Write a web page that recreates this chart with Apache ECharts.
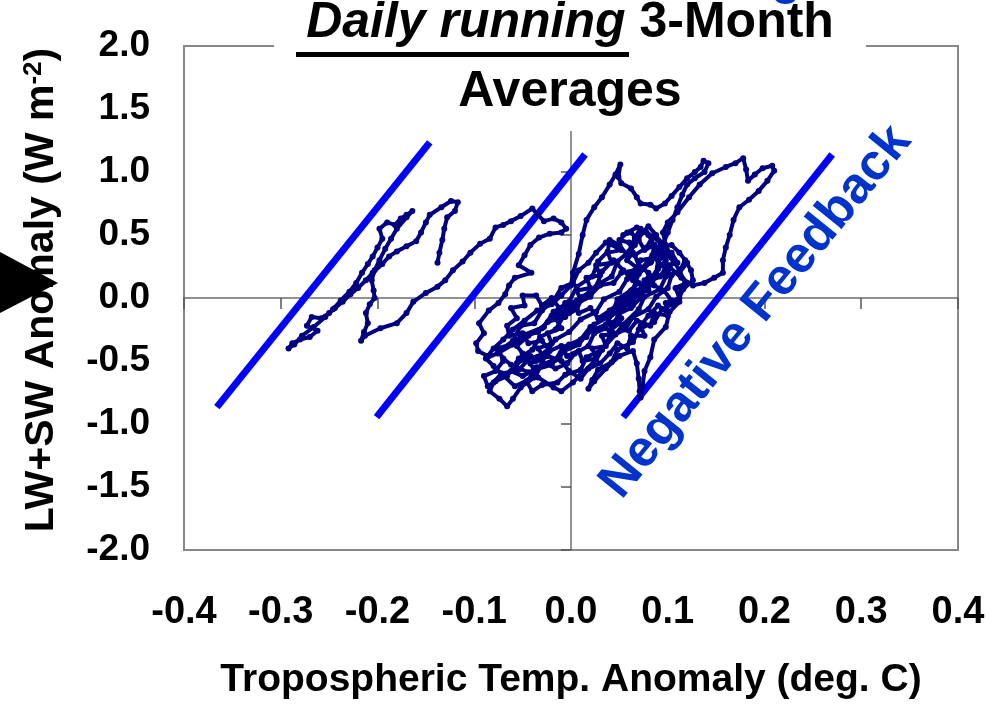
<!DOCTYPE html>
<html>
<head>
<meta charset="utf-8">
<script src="https://cdn.jsdelivr.net/npm/echarts@6/dist/echarts.min.js"></script>
<style>
  html, body { margin: 0; padding: 0; background: #fff; }
  #chart { width: 997px; height: 704px; }
</style>
</head>
<body>
<div id="chart"></div>
<script>
const FONT = '"Liberation Sans", Arial, sans-serif';

// axis ticks
const xTicks = { min: -0.4, max: 0.4, step: 0.1 };
const yTicks = { min: -2.0, max: 2.0, step: 0.5 };

// daily running 3-month averages, [temp anomaly (deg C), LW+SW anomaly (W m-2)]
const leftBranch = [
  [-0.138, 0.28], [-0.136, 0.36], [-0.133, 0.46], [-0.131, 0.55], [-0.128, 0.64],
  [-0.120, 0.69], [-0.117, 0.76], [-0.124, 0.77], [-0.134, 0.72], [-0.146, 0.66],
  [-0.150, 0.60], [-0.155, 0.52], [-0.160, 0.45], [-0.170, 0.41], [-0.180, 0.37],
  [-0.188, 0.33], [-0.195, 0.27], [-0.205, 0.20], [-0.212, 0.14], [-0.220, 0.08],
  [-0.228, 0.03], [-0.236, -0.03], [-0.244, -0.08], [-0.250, -0.12], [-0.258, -0.16],
  [-0.268, -0.15], [-0.273, -0.22], [-0.262, -0.26], [-0.270, -0.31], [-0.280, -0.33],
  [-0.288, -0.36], [-0.292, -0.40], [-0.286, -0.37], [-0.278, -0.30], [-0.266, -0.23],
  [-0.254, -0.15], [-0.246, -0.09], [-0.238, -0.02], [-0.229, 0.05], [-0.222, 0.12],
  [-0.216, 0.20], [-0.210, 0.27], [-0.205, 0.33], [-0.200, 0.40], [-0.195, 0.47],
  [-0.198, 0.55], [-0.190, 0.60], [-0.182, 0.58], [-0.176, 0.63], [-0.170, 0.66],
  [-0.164, 0.69], [-0.170, 0.64], [-0.180, 0.55], [-0.186, 0.47], [-0.192, 0.39],
  [-0.198, 0.30], [-0.203, 0.22], [-0.206, 0.14], [-0.204, 0.06], [-0.203, 0.00],
  [-0.208, -0.05], [-0.212, -0.12], [-0.210, -0.20], [-0.214, -0.27], [-0.217, -0.34],
  [-0.213, -0.30]
];

const crossing = [
  [-0.197, -0.24], [-0.180, -0.20], [-0.170, -0.12], [-0.163, -0.03], [-0.150, 0.04],
  [-0.138, 0.09], [-0.130, 0.14], [-0.122, 0.22], [-0.112, 0.29], [-0.104, 0.36],
  [-0.094, 0.43], [-0.084, 0.47], [-0.078, 0.56], [-0.070, 0.58], [-0.062, 0.61],
  [-0.052, 0.65], [-0.040, 0.71], [-0.034, 0.66], [-0.028, 0.61], [-0.018, 0.63],
  [-0.010, 0.60], [-0.005, 0.55], [-0.010, 0.52], [-0.022, 0.51], [-0.033, 0.48],
  [-0.042, 0.42], [-0.048, 0.34], [-0.054, 0.26], [-0.041, 0.20], [-0.058, 0.16],
  [-0.064, 0.10], [-0.068, 0.03], [-0.075, -0.04], [-0.085, -0.10], [-0.095, -0.20],
  [-0.090, -0.28], [-0.098, -0.36], [-0.096, -0.42], [-0.086, -0.46], [-0.080, -0.40],
  [-0.070, -0.33], [-0.060, -0.25], [-0.048, -0.18], [-0.035, -0.10], [-0.020, -0.05],
  [-0.010, 0.02]
];

const excursion = [
  [0.000, 0.10], [0.002, 0.20], [0.008, 0.35], [0.012, 0.50], [0.016, 0.62],
  [0.024, 0.72], [0.032, 0.80], [0.040, 0.90], [0.046, 0.98], [0.051, 1.06],
  [0.049, 0.96], [0.052, 0.91], [0.062, 0.87], [0.068, 0.80], [0.072, 0.75],
  [0.082, 0.74], [0.088, 0.71], [0.097, 0.75], [0.104, 0.81], [0.112, 0.88],
  [0.120, 0.95], [0.128, 1.00], [0.134, 1.04], [0.137, 1.09], [0.142, 1.07],
  [0.138, 1.00], [0.128, 0.95], [0.120, 0.90], [0.115, 0.82], [0.110, 0.72],
  [0.105, 0.62], [0.100, 0.52], [0.096, 0.44]
];

const clusterA = [
  [0.090, 0.36], [0.082, 0.28], [0.074, 0.23], [0.058, 0.15], [0.050, 0.05],
  [0.034, -0.01], [0.026, -0.11], [0.010, -0.17], [-0.002, -0.27], [-0.016, -0.33],
  [-0.026, -0.43], [-0.044, -0.49], [-0.054, -0.57], [-0.072, -0.60], [-0.080, -0.67],
  [-0.084, -0.74], [-0.074, -0.80], [-0.066, -0.86], [-0.060, -0.80], [-0.052, -0.71],
  [-0.038, -0.63], [-0.030, -0.53], [-0.012, -0.47], [-0.002, -0.37], [0.016, -0.31],
  [0.024, -0.21], [0.042, -0.13], [0.048, -0.01], [0.064, 0.07], [0.070, 0.19],
  [0.083, 0.29], [0.086, 0.42], [0.080, 0.50], [0.072, 0.55], [0.066, 0.48],
  [0.060, 0.37], [0.048, 0.29], [0.042, 0.17], [0.028, 0.11], [0.020, 0.01],
  [0.004, -0.05], [-0.006, -0.15], [-0.024, -0.19], [-0.034, -0.27], [-0.052, -0.31],
  [-0.062, -0.37], [-0.077, -0.40], [-0.070, -0.48], [-0.062, -0.53], [-0.044, -0.59],
  [-0.034, -0.63], [-0.018, -0.71], [-0.010, -0.74], [0.002, -0.67], [0.010, -0.61],
  [0.026, -0.49], [0.032, -0.41], [0.046, -0.29], [0.054, -0.21], [0.070, -0.09],
  [0.076, 0.01], [0.092, 0.07], [0.098, 0.17], [0.112, 0.21], [0.118, 0.30],
  [0.124, 0.22], [0.126, 0.14], [0.116, 0.07], [0.110, -0.03], [0.094, -0.09],
  [0.086, -0.19], [0.070, -0.25], [0.064, -0.35], [0.048, -0.41], [0.042, -0.51],
  [0.028, -0.57], [0.022, -0.65], [0.018, -0.72], [0.024, -0.66], [0.036, -0.56],
  [0.050, -0.46], [0.064, -0.42], [0.068, -0.52], [0.070, -0.64], [0.071, -0.74],
  [0.072, -0.79], [0.074, -0.70], [0.076, -0.58], [0.082, -0.47], [0.086, -0.33],
  [0.098, -0.23], [0.102, -0.11], [0.112, -0.03], [0.114, 0.07], [0.118, 0.12]
];

const rightLobe = [
  [0.112, 0.22], [0.104, 0.32], [0.098, 0.42], [0.095, 0.52], [0.100, 0.60],
  [0.110, 0.68], [0.122, 0.80], [0.133, 0.90], [0.146, 0.99], [0.160, 1.04],
  [0.170, 1.07], [0.178, 1.11], [0.181, 1.02], [0.183, 0.93], [0.190, 0.98],
  [0.198, 1.03], [0.208, 1.05], [0.210, 1.01], [0.203, 0.93], [0.194, 0.85],
  [0.184, 0.78], [0.174, 0.72], [0.168, 0.62], [0.164, 0.50], [0.160, 0.40],
  [0.157, 0.30], [0.157, 0.20], [0.148, 0.16], [0.138, 0.12], [0.126, 0.10]
];

const clusterB = [
  [0.114, 0.16], [0.100, 0.26], [0.092, 0.17], [0.074, 0.11], [0.066, 0.01],
  [0.048, -0.05], [0.038, -0.15], [0.020, -0.23], [0.010, -0.33], [-0.008, -0.39],
  [-0.016, -0.49], [-0.036, -0.55], [-0.044, -0.65], [-0.058, -0.70], [-0.072, -0.60],
  [-0.080, -0.54], [-0.088, -0.48], [-0.076, -0.44], [-0.060, -0.37], [-0.048, -0.29],
  [-0.028, -0.23], [-0.018, -0.11], [-0.002, -0.03], [0.006, 0.09], [0.022, 0.17],
  [0.028, 0.29], [0.038, 0.37], [0.040, 0.46], [0.050, 0.42], [0.058, 0.34],
  [0.066, 0.42], [0.074, 0.52], [0.080, 0.57], [0.088, 0.50], [0.094, 0.40],
  [0.098, 0.30], [0.090, 0.23], [0.084, 0.11], [0.068, 0.05], [0.060, -0.05],
  [0.044, -0.11], [0.036, -0.21], [0.018, -0.27], [0.008, -0.37], [-0.010, -0.43],
  [-0.020, -0.53], [-0.038, -0.57], [-0.050, -0.62], [-0.062, -0.58], [-0.054, -0.48],
  [-0.040, -0.41], [-0.032, -0.31], [-0.016, -0.25], [-0.008, -0.15], [0.006, -0.09],
  [0.012, 0.01], [0.026, 0.09], [0.032, 0.21], [0.044, 0.30], [0.054, 0.22],
  [0.064, 0.14], [0.074, 0.24], [0.084, 0.34], [0.094, 0.26], [0.104, 0.18],
  [0.100, 0.08], [0.088, 0.01], [0.080, -0.09], [0.064, -0.15], [0.056, -0.25],
  [0.040, -0.31], [0.032, -0.41], [0.016, -0.47], [0.010, -0.57], [-0.006, -0.61],
  [-0.014, -0.67], [-0.030, -0.69], [-0.040, -0.74]
];

const clusterC = [
  [-0.046, -0.66], [-0.036, -0.60], [-0.042, -0.52], [-0.028, -0.47], [-0.034, -0.40],
  [-0.020, -0.36], [-0.024, -0.28], [-0.010, -0.24], [-0.016, -0.16], [-0.002, -0.12],
  [-0.006, -0.04], [0.010, -0.02], [0.006, 0.06], [0.020, 0.08], [0.016, 0.16],
  [0.030, 0.18], [0.026, 0.26], [0.042, 0.28], [0.038, 0.36], [0.052, 0.38],
  [0.050, 0.46], [0.060, 0.44], [0.064, 0.36], [0.058, 0.30], [0.068, 0.24],
  [0.060, 0.18], [0.070, 0.12], [0.062, 0.06], [0.072, 0.00], [0.064, -0.06],
  [0.056, -0.02], [0.046, -0.10], [0.052, -0.16], [0.040, -0.20], [0.044, -0.28],
  [0.032, -0.30], [0.036, -0.38], [0.022, -0.40], [0.026, -0.48], [0.012, -0.50],
  [0.008, -0.42], [-0.004, -0.46], [-0.010, -0.38], [-0.022, -0.42], [-0.030, -0.34],
  [-0.044, -0.36], [-0.050, -0.28], [-0.064, -0.30], [-0.066, -0.22], [-0.056, -0.16],
  [-0.062, -0.08], [-0.048, -0.06], [-0.050, 0.02], [-0.036, 0.02], [-0.030, -0.06],
  [-0.020, 0.00], [-0.012, -0.08], [0.000, -0.04], [0.008, -0.12], [0.020, -0.08],
  [0.028, -0.16], [0.040, -0.10], [0.050, -0.04], [0.060, 0.04], [0.074, 0.08],
  [0.080, 0.16], [0.094, 0.18], [0.098, 0.26], [0.110, 0.28], [0.104, 0.36],
  [0.092, 0.34], [0.086, 0.42], [0.076, 0.38], [0.070, 0.46], [0.062, 0.52],
  [0.054, 0.50], [0.048, 0.40], [0.036, 0.44], [0.026, 0.36], [0.018, 0.28],
  [0.008, 0.22], [0.002, 0.12], [-0.010, 0.08], [-0.018, -0.02], [-0.030, -0.10],
  [-0.038, -0.20], [-0.052, -0.22], [-0.060, -0.34], [-0.074, -0.42], [-0.070, -0.50],
  [-0.078, -0.58], [-0.090, -0.62], [-0.086, -0.70], [-0.078, -0.66], [-0.066, -0.62],
  [-0.056, -0.52], [-0.042, -0.46], [-0.030, -0.50], [-0.016, -0.56]
];

const clusterD = [
  [-0.004, -0.52], [0.004, -0.44], [0.018, -0.38], [0.024, -0.28], [0.036, -0.24],
  [0.040, -0.14], [0.054, -0.10], [0.058, 0.00], [0.072, 0.04], [0.076, 0.14],
  [0.088, 0.20], [0.090, 0.30], [0.102, 0.34], [0.096, 0.44], [0.084, 0.48],
  [0.078, 0.40], [0.066, 0.34], [0.070, 0.26], [0.080, 0.20], [0.086, 0.10],
  [0.096, 0.06], [0.104, -0.02], [0.098, -0.10], [0.090, -0.06], [0.080, -0.14],
  [0.072, -0.22], [0.076, -0.30], [0.062, -0.30], [0.058, -0.40], [0.048, -0.36],
  [0.040, -0.44], [0.030, -0.52], [0.018, -0.56], [0.010, -0.64], [-0.002, -0.58],
  [-0.010, -0.50], [-0.024, -0.46], [-0.036, -0.50], [-0.050, -0.44], [-0.056, -0.38]
];

const clusterE = [
  [-0.044, -0.30], [-0.030, -0.24], [-0.020, -0.14], [-0.006, -0.10], [0.006, -0.02],
  [0.020, 0.02], [0.030, 0.10], [0.044, 0.12], [0.052, 0.20], [0.066, 0.22],
  [0.072, 0.30], [0.086, 0.32], [0.090, 0.40], [0.104, 0.42], [0.112, 0.36],
  [0.120, 0.28], [0.112, 0.20], [0.120, 0.12], [0.108, 0.08], [0.112, 0.00],
  [0.098, -0.04], [0.100, -0.14], [0.086, -0.12], [0.082, -0.22], [0.068, -0.18],
  [0.060, -0.26], [0.050, -0.20], [0.040, -0.26], [0.050, -0.12], [0.062, -0.08],
  [0.066, 0.02], [0.080, 0.06], [0.084, 0.16], [0.100, 0.20], [0.106, 0.30],
  [0.096, 0.36], [0.090, 0.46], [0.078, 0.52], [0.068, 0.56], [0.058, 0.52]
];

const trackPoints = leftBranch.concat(crossing, excursion, clusterA, rightLobe, clusterB, clusterC, clusterD, clusterE);

// the three sloping reference lines, [start, end]
const feedbackLineX = [[-0.366, -0.146], [-0.201, 0.0145], [0.054, 0.270]];
const feedbackLineY = [[-0.866, 1.235], [-0.946, 1.139], [-0.946, 1.139]];

const myChart = echarts.init(document.getElementById('chart'), null, { renderer: 'canvas' });

const fmt = v => v.toFixed(1);

const lineSeries = feedbackLineX.map((xs, i) => ({
  type: 'line',
  name: 'slope' + i,
  xAxisIndex: 0,
  yAxisIndex: 0,
  data: [[xs[0], feedbackLineY[i][0]], [xs[1], feedbackLineY[i][1]]],
  showSymbol: false,
  symbol: 'none',
  lineStyle: { color: '#0000ff', width: 7, cap: 'butt' },
  z: 3,
  silent: true
}));

const option = {
  animation: false,
  backgroundColor: '#fff',
  textStyle: { fontFamily: FONT },
  title: {
    text: '{it|Daily running} 3-Month\nAverages',
    left: 538,
    top: -11,
    textAlign: 'center',
    textVerticalAlign: 'top',
    padding: [0, 32, 4, 32],
    backgroundColor: '#fff',
    textStyle: {
      fontFamily: FONT, fontSize: 50, fontWeight: 'bold', color: '#000', lineHeight: 69,
      rich: {
        it: { fontFamily: FONT, fontSize: 50, fontWeight: 'bold', fontStyle: 'italic', color: '#000', lineHeight: 69 }
      }
    }
  },
  grid: {
    left: 184, right: 39, top: 46, bottom: 154,
    show: true,
    borderColor: '#888',
    borderWidth: 2,
    containLabel: false,
    outerBoundsMode: 'none'
  },
  xAxis: [
    {
      type: 'value', min: xTicks.min, max: xTicks.max, interval: xTicks.step,
      position: 'bottom',
      axisLine: { show: false, onZero: false },
      axisTick: { show: false },
      splitLine: { show: false },
      axisLabel: { formatter: fmt, fontSize: 38, fontWeight: 'bold', color: '#000', margin: 44, fontFamily: FONT, showMinLabel: true, showMaxLabel: true },
      name: 'Tropospheric Temp. Anomaly (deg. C)',
      nameLocation: 'middle',
      nameGap: 111,
      nameMoveOverlap: false,
      nameTextStyle: { fontSize: 39, fontWeight: 'bold', color: '#000', fontFamily: FONT }
    },
    {
      type: 'value', min: xTicks.min, max: xTicks.max, interval: xTicks.step,
      position: 'bottom',
      axisLine: { show: true, onZero: true, lineStyle: { color: '#6e6e6e', width: 1.5 } },
      axisTick: { show: true, length: 11, lineStyle: { color: '#555', width: 1.5 } },
      axisLabel: { show: false },
      splitLine: { show: false }
    }
  ],
  yAxis: [
    {
      type: 'value', min: yTicks.min, max: yTicks.max, interval: yTicks.step,
      position: 'left',
      axisLine: { show: false, onZero: false },
      axisTick: { show: false },
      splitLine: { show: false },
      axisLabel: { formatter: fmt, fontSize: 37, fontWeight: 'bold', color: '#000', margin: 34, fontFamily: FONT, showMinLabel: true, showMaxLabel: true },
      name: 'LW+SW Anomaly (W m{sup|-2})',
      nameLocation: 'middle',
      nameRotate: 90,
      nameGap: 122,
      nameMoveOverlap: false,
      nameTextStyle: {
        fontSize: 41, fontWeight: 'bold', color: '#000', fontFamily: FONT,
        padding: [0, 0, 0, 16],
        rich: { sup: { fontSize: 26, fontWeight: 'bold', color: '#000', fontFamily: FONT, verticalAlign: 'top' } }
      }
    },
    {
      type: 'value', min: yTicks.min, max: yTicks.max, interval: yTicks.step,
      position: 'left',
      axisLine: { show: true, onZero: true, lineStyle: { color: '#6e6e6e', width: 1.5 } },
      axisTick: { show: true, length: 10, lineStyle: { color: '#555', width: 1.5 } },
      axisLabel: { show: false },
      splitLine: { show: false }
    }
  ],
  graphic: [
    {
      type: 'polygon', z: 100,
      shape: { points: [[0, 252], [58, 283], [0, 313]] },
      style: { fill: '#000' }
    },
    {
      type: 'rect', z: 100,
      shape: { x: 296, y: 52, width: 333, height: 5 },
      style: { fill: '#000' }
    },
    {
      type: 'text', z: 100,
      x: 786, y: -19,
      style: { text: 'g', fill: '#0033cc', font: 'bold 48px ' + FONT, align: 'center', verticalAlign: 'middle', textAlign: 'center', textVerticalAlign: 'middle' }
    },
    {
      type: 'text', z: 100,
      x: 756, y: 312,
      rotation: 51 * Math.PI / 180,
      style: { text: 'Negative Feedback', fill: '#0033cc', font: 'bold 51px ' + FONT, align: 'center', verticalAlign: 'middle', textAlign: 'center', textVerticalAlign: 'middle' }
    }
  ],
  series: lineSeries.concat([{
    type: 'line',
    name: 'daily',
    xAxisIndex: 0,
    yAxisIndex: 0,
    data: trackPoints,
    symbol: 'circle',
    symbolSize: 6,
    showSymbol: true,
    itemStyle: { color: '#000080' },
    lineStyle: { color: '#000080', width: 4 },
    z: 4,
    silent: true
  }])
};

myChart.setOption(option);
</script>
</body>
</html>
